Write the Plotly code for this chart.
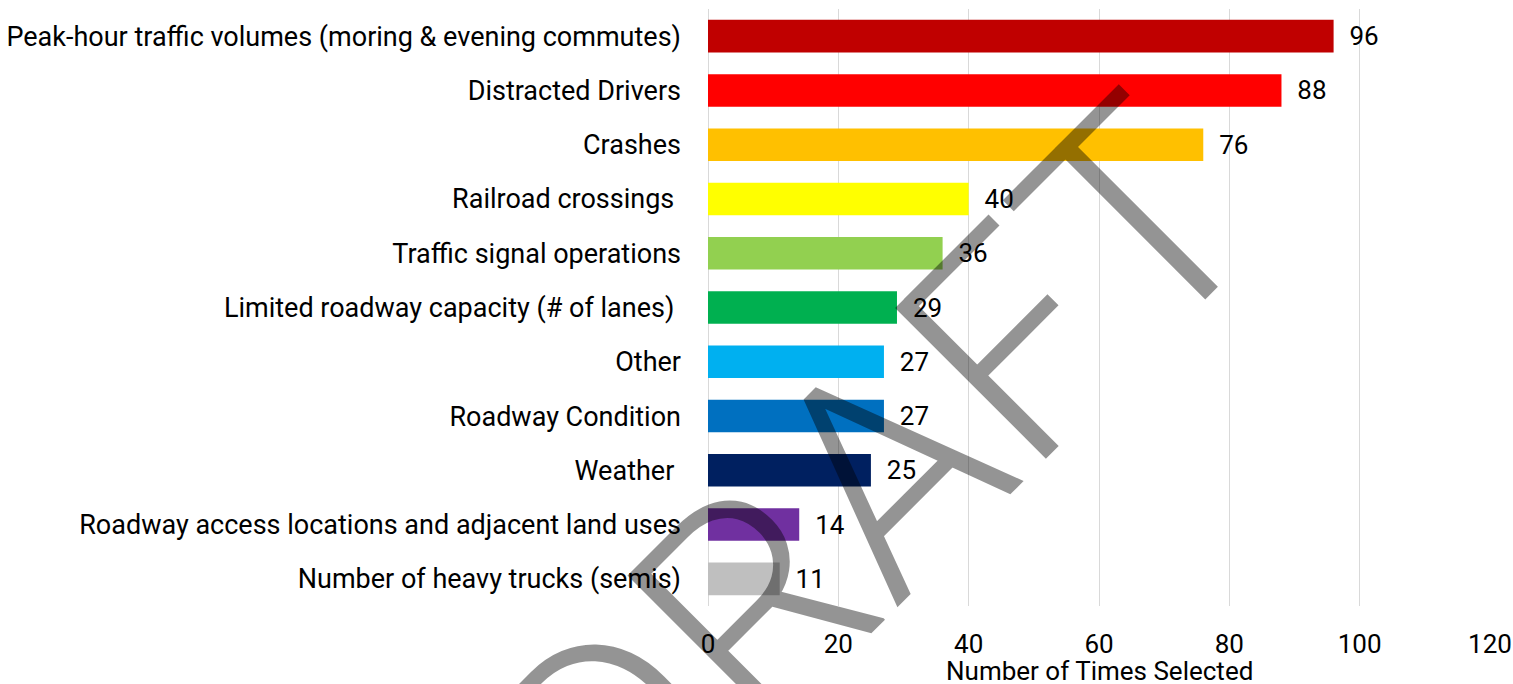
import plotly.graph_objects as go

categories = [
    "Peak-hour traffic volumes (moring & evening commutes)",
    "Distracted Drivers",
    "Crashes",
    "Railroad crossings\u00a0",
    "Traffic signal operations",
    "Limited roadway capacity (# of lanes)\u00a0",
    "Other",
    "Roadway Condition",
    "Weather\u00a0",
    "Roadway access locations and adjacent land uses",
    "Number of heavy trucks (semis)",
]
values = [96, 88, 76, 40, 36, 29, 27, 27, 25, 14, 11]
colors = [
    "#C00000", "#FF0000", "#FFC000", "#FFFF00", "#92D050", "#00B050",
    "#00B0F0", "#0070C0", "#002060", "#7030A0", "#BFBFBF",
]
x_ticks = [0, 20, 40, 60, 80, 100, 120]
x_title = "Number of Times Selected"
watermark = "DRAFT"

FONT = "Roboto, 'Noto Sans', sans-serif"
FS = 27

W, H = 1513, 684
L, R, T, B = 708, 23, 9, 78
PLOT_H = H - T - B

fig = go.Figure()
fig.add_trace(go.Bar(
    y=categories,
    x=values,
    orientation="h",
    marker=dict(color=colors, line=dict(width=0)),
    text=values,
    texttemplate="\u00a0\u00a0%{x}",
    textposition="outside",
    textfont=dict(family=FONT, size=26, color="#000000"),
    cliponaxis=False,
    width=0.6,
    hoverinfo="skip",
))

fig.update_layout(
    width=W,
    height=H,
    autosize=False,
    margin=dict(l=L, r=R, t=T, b=B, pad=0, autoexpand=False),
    paper_bgcolor="white",
    plot_bgcolor="white",
    showlegend=False,
    font=dict(family=FONT, size=FS, color="#000000"),
    xaxis=dict(
        range=[0, 120],
        automargin=False,
        tickvals=x_ticks,
        ticktext=[str(v) for v in x_ticks],
        showgrid=True,
        gridcolor="#D9D9D9",
        gridwidth=1,
        zeroline=True,
        zerolinecolor="#D9D9D9",
        zerolinewidth=1,
        showline=False,
        ticks="",
        ticklabelstandoff=20,
        ticklabeloverflow="allow",
        tickfont=dict(family=FONT, size=26, color="#000000"),
    ),
    yaxis=dict(
        autorange="reversed",
        automargin=False,
        showgrid=False,
        zeroline=False,
        showline=False,
        ticks="",
        ticklabelstandoff=26,
        tickfont=dict(family=FONT, size=FS, color="#000000"),
    ),
    annotations=[
        dict(
            text=x_title,
            xref="paper", yref="paper",
            x=0.5, y=-(671 - (T + PLOT_H)) / PLOT_H,
            xanchor="center", yanchor="middle",
            showarrow=False,
            font=dict(family=FONT, size=26, color="#000000"),
        ),
        dict(
            text=watermark,
            xref="paper", yref="paper",
            x=(875 - L) / 782, y=(606 - 484) / PLOT_H,
            xanchor="center", yanchor="middle",
            showarrow=False,
            textangle=-45,
            font=dict(family="Roboto", size=300, weight=300, color="rgba(0,0,0,0.42)"),
        ),
    ],
)

# remove the page's default body margin so the figure fills the window exactly
fig.write_html(
    "out.html",
    config={"displayModeBar": False, "staticPlot": True},
    post_script="document.body.style.margin='0';document.documentElement.style.overflow='hidden';document.body.style.overflow='hidden';",
)
